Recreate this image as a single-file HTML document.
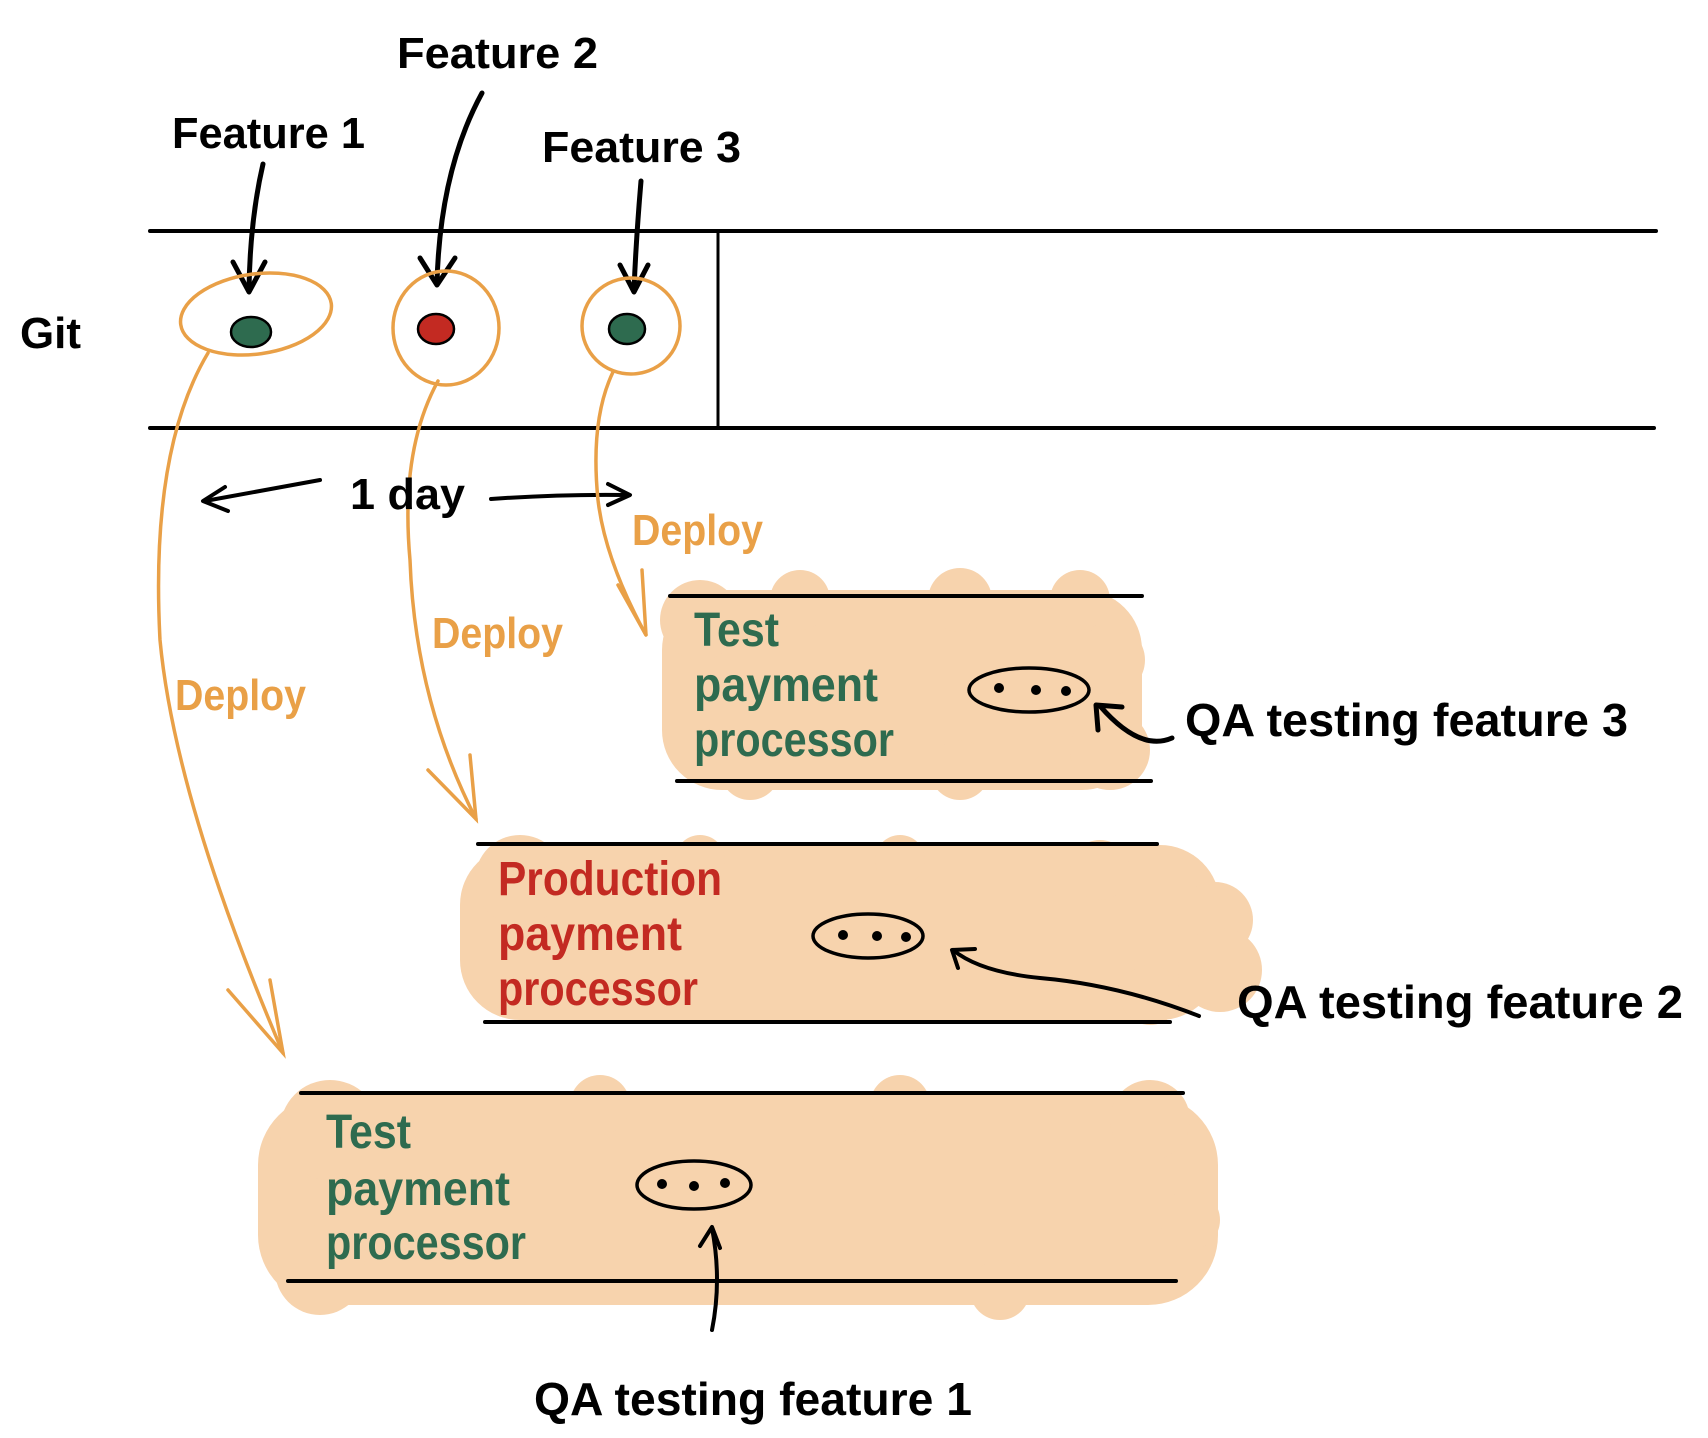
<!DOCTYPE html>
<html><head><meta charset="utf-8"><style>
html,body{margin:0;padding:0;background:#fff;}
svg{display:block}
text{font-family:"Liberation Sans Narrow","Liberation Sans",sans-serif;font-weight:bold;}
</style></head><body>
<svg width="1708" height="1438" viewBox="0 0 1708 1438" xmlns="http://www.w3.org/2000/svg">
<g fill="#f7d3ad">
  <rect x="662" y="590" width="480" height="200" rx="60"/>
  <circle cx="700" cy="620" r="40"/><circle cx="800" cy="600" r="30"/><circle cx="960" cy="600" r="32"/><circle cx="1080" cy="600" r="30"/>
  <circle cx="1110" cy="660" r="35"/><circle cx="1110" cy="750" r="40"/><circle cx="960" cy="770" r="30"/><circle cx="750" cy="770" r="30"/>
  <rect x="460" y="845" width="760" height="175" rx="60"/>
  <circle cx="520" cy="880" r="45"/><circle cx="700" cy="860" r="25"/><circle cx="900" cy="860" r="25"/><circle cx="1100" cy="870" r="30"/>
  <circle cx="1215" cy="920" r="38"/><circle cx="1220" cy="970" r="42"/><circle cx="1150" cy="995" r="30"/>
  <rect x="258" y="1095" width="960" height="210" rx="70"/>
  <circle cx="330" cy="1130" r="50"/><circle cx="600" cy="1105" r="30"/><circle cx="900" cy="1105" r="30"/><circle cx="1150" cy="1120" r="40"/>
  <circle cx="1190" cy="1220" r="30"/><circle cx="1000" cy="1290" r="30"/><circle cx="320" cy="1270" r="45"/>
</g>
<g stroke="#000" stroke-width="4" fill="none" stroke-linecap="round" stroke-linejoin="round">
  <line x1="150" y1="231" x2="1656" y2="231"/>
  <line x1="150" y1="428" x2="1654" y2="428"/>
  <line x1="718" y1="231" x2="718" y2="428" stroke-width="3"/>
  <line x1="670" y1="596" x2="1142" y2="596"/>
  <line x1="677" y1="781" x2="1151" y2="781"/>
  <line x1="478" y1="844" x2="1157" y2="844"/>
  <line x1="485" y1="1022" x2="1170" y2="1022"/>
  <line x1="301" y1="1093" x2="1183" y2="1093"/>
  <line x1="288" y1="1281" x2="1176" y2="1281"/>
  <g stroke-width="5">
  <path d="M263 164 Q250 220 249 290"/><path d="M233 262 L249 292 L265 262"/>
  <path d="M482 93 Q440 170 437 283"/><path d="M420 258 L437 285 L455 258"/>
  <path d="M641 181 Q636 240 634 290"/><path d="M620 265 L634 292 L648 265"/>
  </g>
  <path d="M320 480 L205 501"/><path d="M225 487 L203 501 L228 511"/>
  <path d="M491 499 Q560 494 628 495"/><path d="M608 484 L630 495 L608 505"/>
  <ellipse cx="1029" cy="690" rx="60" ry="22" stroke-width="3.5"/>
  <ellipse cx="868" cy="936" rx="55" ry="22" stroke-width="3.5"/>
  <ellipse cx="694" cy="1185" rx="57" ry="24" stroke-width="3.5"/>
  <path d="M1172 738 Q1140 752 1100 706" stroke-width="5"/><path d="M1098 730 L1096 705 L1122 707" stroke-width="5"/>
  <path d="M1199 1016 Q1120 985 1040 978 Q980 972 953 950" stroke-width="4"/><path d="M958 968 L952 950 L975 949" stroke-width="4"/>
  <path d="M712 1330 Q722 1280 712 1228" stroke-width="4"/><path d="M700 1246 L712 1227 L720 1248" stroke-width="4"/>
</g>
<g fill="#000">
  <circle cx="999" cy="688" r="5"/><circle cx="1036" cy="690" r="5"/><circle cx="1066" cy="691" r="5"/>
  <circle cx="843" cy="935" r="5"/><circle cx="877" cy="936" r="5"/><circle cx="906" cy="937" r="5"/>
  <circle cx="662" cy="1184" r="5"/><circle cx="694" cy="1186" r="5"/><circle cx="725" cy="1183" r="5"/>
</g>
<ellipse cx="251" cy="332" rx="20" ry="15" fill="#2e6b4f" stroke="#000" stroke-width="2.5"/>
<ellipse cx="436" cy="329" rx="18" ry="15" fill="#c32a22" stroke="#000" stroke-width="2.5"/>
<ellipse cx="627" cy="329" rx="18" ry="15" fill="#2e6b4f" stroke="#000" stroke-width="2.5"/>
<g stroke="#e9a047" stroke-width="3.5" fill="none" stroke-linecap="round">
  <ellipse cx="256" cy="314" rx="76" ry="40" transform="rotate(-8 256 314)"/>
  <ellipse cx="446" cy="328" rx="53" ry="57"/>
  <ellipse cx="631" cy="326" rx="49" ry="48"/>
  <path d="M208 353 Q150 450 160 640 Q175 800 283 1053"/><path d="M228 990 L283 1053 L270 980"/>
  <path d="M438 381 Q400 450 410 560 Q415 700 476 819"/><path d="M428 770 L476 819 L470 755"/>
  <path d="M613 372 Q590 420 598 500 Q605 560 646 635"/><path d="M618 585 L646 635 L642 570"/>
</g>
<g font-size="44" fill="#000" lengthAdjust="spacingAndGlyphs">
  <text x="20" y="348" textLength="61" lengthAdjust="spacingAndGlyphs">Git</text>
  <text x="172" y="148" textLength="193" lengthAdjust="spacingAndGlyphs">Feature 1</text>
  <text x="397" y="68" textLength="201" lengthAdjust="spacingAndGlyphs">Feature 2</text>
  <text x="542" y="162" textLength="199" lengthAdjust="spacingAndGlyphs">Feature 3</text>
  <text x="350" y="509" textLength="115" lengthAdjust="spacingAndGlyphs">1 day</text>
  <text x="1185" y="736" font-size="46" textLength="443" lengthAdjust="spacingAndGlyphs">QA testing feature 3</text>
  <text x="1237" y="1018" font-size="46" textLength="446" lengthAdjust="spacingAndGlyphs">QA testing feature 2</text>
  <text x="534" y="1415" font-size="46" textLength="438" lengthAdjust="spacingAndGlyphs">QA testing feature 1</text>
</g>
<g font-size="44" fill="#e9a047">
  <text x="632" y="545" textLength="131" lengthAdjust="spacingAndGlyphs">Deploy</text>
  <text x="432" y="648" textLength="131" lengthAdjust="spacingAndGlyphs">Deploy</text>
  <text x="175" y="710" textLength="131" lengthAdjust="spacingAndGlyphs">Deploy</text>
</g>
<g font-size="48" fill="#2e6b4f">
  <text x="694" y="646" textLength="85" lengthAdjust="spacingAndGlyphs">Test</text><text x="694" y="701" textLength="184" lengthAdjust="spacingAndGlyphs">payment</text><text x="694" y="756" textLength="200" lengthAdjust="spacingAndGlyphs">processor</text>
  <text x="326" y="1148" textLength="85" lengthAdjust="spacingAndGlyphs">Test</text><text x="326" y="1205" textLength="184" lengthAdjust="spacingAndGlyphs">payment</text><text x="326" y="1259" textLength="200" lengthAdjust="spacingAndGlyphs">processor</text>
</g>
<g font-size="48" fill="#c32a22">
  <text x="498" y="895" textLength="224" lengthAdjust="spacingAndGlyphs">Production</text><text x="498" y="950" textLength="184" lengthAdjust="spacingAndGlyphs">payment</text><text x="498" y="1005" textLength="200" lengthAdjust="spacingAndGlyphs">processor</text>
</g>
</svg>
</body></html>
